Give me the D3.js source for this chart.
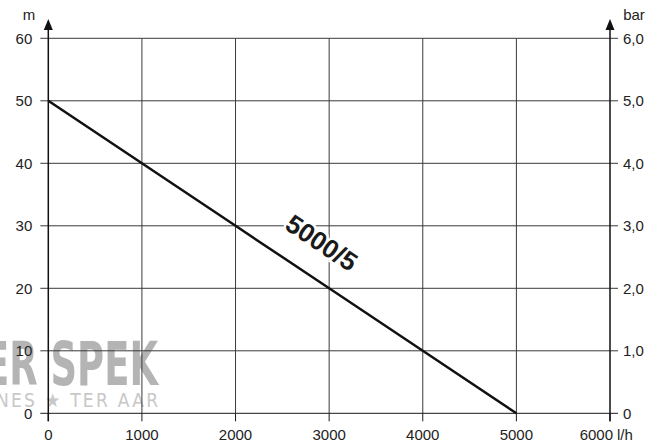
<!DOCTYPE html>
<html>
<head>
<meta charset="utf-8">
<script src="https://cdn.jsdelivr.net/npm/d3@7"></script>
<style>
  body { margin: 0; background: #fff; }
  svg { display: block; font-family: "Liberation Sans", Arial, sans-serif; }
</style>
</head>
<body>
<div id="chart"></div>
<script>
// pump curve data
const flowValues = [0, 1000, 2000, 3000, 4000, 5000];
const headValues = [50, 40, 30, 20, 10, 0];
const xTicks = [0, 1000, 2000, 3000, 4000, 5000, 6000];
const yTicks = [0, 10, 20, 30, 40, 50, 60];
const barTickLabels = ["0", "1,0", "2,0", "3,0", "4,0", "5,0", "6,0"];
const curveLabel = "5000/5";

const width = 667, height = 445;
const margin = { top: 38.3, right: 57, bottom: 31.7, left: 48.3 };

const svg = d3.select("#chart").append("svg")
  .attr("width", width)
  .attr("height", height);

const x = d3.scaleLinear().domain([0, 6000]).range([margin.left, width - margin.right]);
const y = d3.scaleLinear().domain([0, 60]).range([height - margin.bottom, margin.top]);

// watermark
svg.append("text")
  .attr("x", -16).attr("y", 385)
  .attr("font-family", "'DejaVu Sans Condensed', 'Liberation Sans Narrow', sans-serif")
  .attr("font-weight", "bold")
  .attr("font-size", 60)
  .attr("textLength", 174)
  .attr("lengthAdjust", "spacingAndGlyphs")
  .attr("fill", "#b4b4b4")
  .text("ER SPEK");
svg.append("text")
  .attr("x", -4).attr("y", 407)
  .attr("font-family", "'DejaVu Sans Condensed', sans-serif")
  .attr("font-size", 19)
  .attr("textLength", 162)
  .attr("lengthAdjust", "spacing")
  .attr("fill", "#c8c8c8")
  .text("NES \u2605 TER AAR");

// grid
svg.append("g")
  .selectAll("line")
  .data(xTicks.slice(1, -1))
  .join("line")
  .attr("x1", d => x(d)).attr("x2", d => x(d))
  .attr("y1", y(0)).attr("y2", y(60))
  .attr("stroke", "#3a3a3a").attr("stroke-width", 1);

svg.append("g")
  .selectAll("line")
  .data(yTicks)
  .join("line")
  .attr("x1", x(0) - 8).attr("x2", x(6000) + 8)
  .attr("y1", d => y(d)).attr("y2", d => y(d))
  .attr("stroke", d => d === 0 ? "#1a1a1a" : "#3a3a3a").attr("stroke-width", 1);

// bottom tick marks
svg.append("g")
  .selectAll("line")
  .data(xTicks)
  .join("line")
  .attr("x1", d => x(d)).attr("x2", d => x(d))
  .attr("y1", y(0)).attr("y2", y(0) + 8)
  .attr("stroke", "#1a1a1a");

// vertical axes with arrows
[0, 6000].forEach(v => {
  svg.append("line")
    .attr("x1", x(v)).attr("x2", x(v))
    .attr("y1", y(0) + 8).attr("y2", 26)
    .attr("stroke", "#111").attr("stroke-width", 1.5);
  svg.append("path")
    .attr("d", `M${x(v)},19 L${x(v) - 4.5},30 L${x(v) + 4.5},30 Z`)
    .attr("fill", "#111");
});

// left labels
svg.append("g")
  .selectAll("text")
  .data(yTicks)
  .join("text")
  .attr("x", x(0) - 16)
  .attr("y", d => y(d))
  .attr("dy", "0.35em")
  .attr("text-anchor", "end")
  .attr("font-size", 15)
  .attr("fill", "#222")
  .text(d => d);

// right labels
svg.append("g")
  .selectAll("text")
  .data(yTicks)
  .join("text")
  .attr("x", x(6000) + 13)
  .attr("y", d => y(d))
  .attr("dy", "0.35em")
  .attr("text-anchor", "start")
  .attr("font-size", 15)
  .attr("fill", "#222")
  .text((d, i) => barTickLabels[i]);

// bottom labels (last one sits left of the unit)
svg.append("g")
  .selectAll("text")
  .data(xTicks)
  .join("text")
  .attr("x", d => d === 6000 ? x(d) + 3 : x(d))
  .attr("y", y(0) + 27)
  .attr("text-anchor", d => d === 6000 ? "end" : "middle")
  .attr("font-size", 15)
  .attr("fill", "#222")
  .text(d => d);

svg.append("text")
  .attr("x", x(6000) + 7).attr("y", y(0) + 27)
  .attr("font-size", 15).attr("fill", "#222")
  .text("l/h");

svg.append("text")
  .attr("x", 29).attr("y", 20)
  .attr("text-anchor", "middle")
  .attr("font-size", 15).attr("fill", "#222")
  .text("m");

svg.append("text")
  .attr("x", 634).attr("y", 20)
  .attr("text-anchor", "middle")
  .attr("font-size", 15).attr("fill", "#222")
  .text("bar");

// curve
const line = d3.line()
  .x((d, i) => x(flowValues[i]))
  .y(d => y(d));

svg.append("path")
  .datum(headValues)
  .attr("d", line)
  .attr("fill", "none")
  .attr("stroke", "#111")
  .attr("stroke-width", 2.5);

// curve label
const angle = Math.atan2(y(0) - y(50), x(5000) - x(0)) * 180 / Math.PI;
const lx = x(2920), ly = y(27.3);
svg.append("text")
  .attr("transform", `translate(${lx},${ly}) rotate(${angle})`)
  .attr("text-anchor", "middle")
  .attr("dy", "0.35em")
  .attr("font-size", 26)
  .attr("font-weight", "bold")
  .attr("fill", "#1a1a1a")
  .attr("stroke", "#fff")
  .attr("stroke-width", 5)
  .attr("paint-order", "stroke")
  .text(curveLabel);
</script>
</body>
</html>
